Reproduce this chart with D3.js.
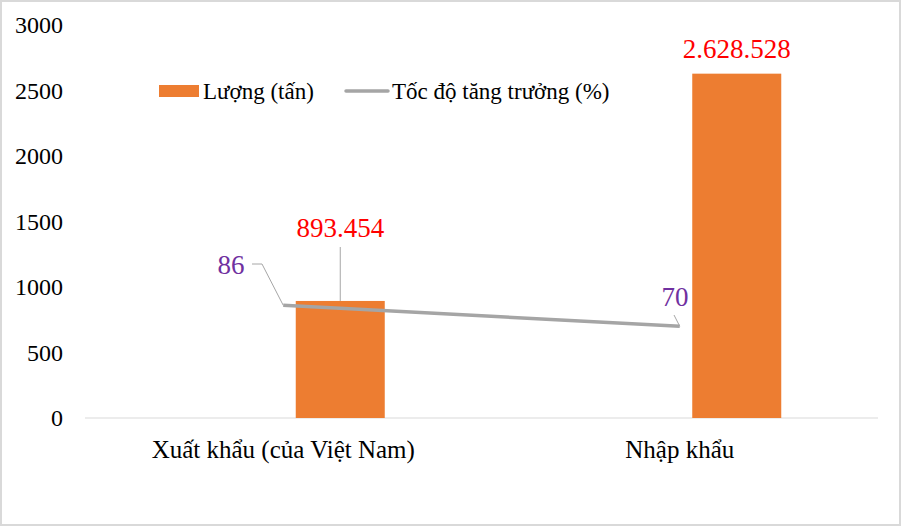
<!DOCTYPE html>
<html>
<head>
<meta charset="utf-8">
<script src="https://cdn.jsdelivr.net/npm/d3@7"></script>
<style>
  body { margin: 0; background: #fff; }
  text { font-family: "Liberation Serif", "Times New Roman", serif; }
</style>
</head>
<body>
<svg id="chart" width="902" height="527"></svg>
<script>
// data
const categories = ["Xuất khẩu (của Việt Nam)", "Nhập khẩu"]
const volumes = [893.454, 2628.528]   // nghìn tấn
const growth = [86, 70]               // %
const yTicks = [0, 500, 1000, 1500, 2000, 2500, 3000]
const legendLabels = ["Lượng (tấn)", "Tốc độ tăng trưởng (%)"]

const svg = d3.select("#chart")
const W = 902, H = 527
const LEFT = 85, RIGHT = 878, TOP = 25, BOTTOM = 418
const BAR_W = 89, BAR_SHIFT = 57
const ORANGE = "#ED7D31", GREY = "#A5A5A5"

// outer frame
svg.append("rect")
    .attr("x", 1).attr("y", 1)
    .attr("width", W - 3).attr("height", H - 3)
    .style("fill", "white")
    .style("stroke", "#D9D9D9")
    .style("stroke-width", 2)

let x = d3.scaleBand()
    .domain(categories)
    .range([LEFT, RIGHT])
    .padding(0)
let y = d3.scaleLinear().domain([0, 3000]).range([BOTTOM, TOP])
// hidden secondary axis for the percentage line
let y2 = d3.scaleLinear().domain([0, 300]).range([BOTTOM, TOP])

const cx = c => x(c) + x.bandwidth() / 2

// y axis, labels only
svg.append("g")
    .attr("transform", `translate(${LEFT},0)`)
    .call(d3.axisLeft(y).tickValues(yTicks).tickSize(0).tickPadding(22).tickFormat(d3.format("d")))
    .call(g => g.select(".domain").remove())
    .selectAll("text")
    .style("font-family", "Liberation Serif")
    .style("font-size", "24px")
    .style("fill", "#000")

// baseline
svg.append("line")
    .attr("x1", LEFT).attr("x2", RIGHT)
    .attr("y1", y(0)).attr("y2", y(0))
    .style("stroke", "#D9D9D9")
    .style("stroke-width", 1)

// bars
svg.selectAll(".bar")
    .data(categories)
    .enter()
    .append("rect")
    .attr("class", "bar")
    .attr("x", (d) => cx(d) + BAR_SHIFT - BAR_W / 2)
    .attr("y", (d, i) => y(volumes[i]))
    .attr("width", BAR_W)
    .attr("height", (d, i) => y(0) - y(volumes[i]))
    .style("fill", ORANGE)

// category labels
svg.selectAll(".cat")
    .data(categories)
    .enter()
    .append("text")
    .text(d => d)
    .attr("x", d => cx(d))
    .attr("y", 458)
    .style("text-anchor", "middle")
    .style("font-size", "25px")
    .style("fill", "#000")

// line
let line = d3.line()
    .x((d, i) => cx(categories[i]))
    .y(d => y2(d))
svg.append("path")
    .datum(growth)
    .attr("d", line)
    .style("fill", "none")
    .style("stroke", GREY)
    .style("stroke-width", 3.5)

// value labels for bars
const vnFmt = d3.formatLocale({ decimal: ",", thousands: ".", grouping: [3], currency: ["", ""] }).format(",.0f")
const barLabelY = [228, 49]
categories.forEach((c, i) => {
    let bx = cx(c) + BAR_SHIFT
    svg.append("text")
        .text(vnFmt(volumes[i] * 1000))
        .attr("x", bx)
        .attr("y", barLabelY[i] + 9)
        .style("text-anchor", "middle")
        .style("font-size", "27px")
        .style("fill", "#FF0000")
    if (i === 0) {
        // leader line
        svg.append("line")
            .attr("x1", bx).attr("x2", bx)
            .attr("y1", barLabelY[i] + 19).attr("y2", y(volumes[i]))
            .style("stroke", "#A6A6A6")
            .style("stroke-width", 1)
    }
})

// growth labels with leader lines
const growthLabelPos = [[231, 265], [675, 297]]
growth.forEach((g, i) => {
    let px = cx(categories[i]), py = y2(g)
    let [lx, ly] = growthLabelPos[i]
    svg.append("text")
        .text(g)
        .attr("x", lx)
        .attr("y", ly + 9)
        .style("text-anchor", "middle")
        .style("font-size", "27px")
        .style("fill", "#7030A0")
    let pts = i === 0
        ? [[lx + 21, ly - 1], [lx + 31, ly - 1], [px, py]]
        : [[lx - 1, ly + 18], [px, py]]
    svg.append("path")
        .attr("d", d3.line()(pts))
        .style("fill", "none")
        .style("stroke", "#A6A6A6")
        .style("stroke-width", 1)
})

// legend
let lg = svg.append("g")
lg.append("rect")
    .attr("x", 159).attr("y", 85)
    .attr("width", 40).attr("height", 12)
    .style("fill", ORANGE)
lg.append("text")
    .text(legendLabels[0])
    .attr("x", 203).attr("y", 99)
    .style("font-size", "23px")
lg.append("line")
    .attr("x1", 346).attr("x2", 388)
    .attr("y1", 91).attr("y2", 91)
    .style("stroke", GREY)
    .style("stroke-width", 3.5)
    .style("stroke-linecap", "round")
lg.append("text")
    .text(legendLabels[1])
    .attr("x", 392).attr("y", 99)
    .style("font-size", "23px")
</script>
</body>
</html>
